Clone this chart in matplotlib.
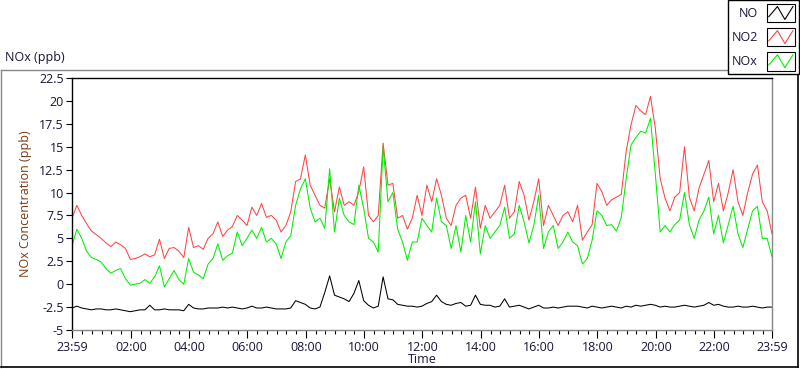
import numpy as np
import pandas as pd
import matplotlib
matplotlib.use('Agg')
import matplotlib.pyplot as plt
import matplotlib.dates as mdates
from matplotlib.legend_handler import HandlerBase
from matplotlib.lines import Line2D
from matplotlib.patches import Rectangle
from matplotlib.ticker import FuncFormatter

# 10 minute samples, 23:59 -> 23:59 next day (ppb)
no = [
    -2.6, -2.4, -2.6, -2.7, -2.8, -2.7, -2.7, -2.8, -2.8, -2.7, -2.8, -2.9,
    -3.0, -2.9, -2.8, -2.8, -2.3, -2.8, -2.8, -2.7, -2.8, -2.8, -2.8, -2.9,
    -2.2, -2.6, -2.7, -2.7, -2.6, -2.6, -2.6, -2.5, -2.6, -2.5, -2.6, -2.7,
    -2.6, -2.4, -2.6, -2.6, -2.5, -2.6, -2.7, -2.7, -2.7, -2.6, -1.8, -2.0,
    -2.2, -2.6, -2.7, -2.5, -0.9, 0.9, -1.2, -1.4, -1.6, -1.9, -1.0, 0.4,
    -1.8, -2.3, -2.6, -2.4, 0.8, -1.6, -1.7, -2.2, -2.3, -2.4, -2.4, -2.5,
    -2.4, -2.1, -1.9, -1.2, -1.9, -2.2, -2.3, -2.1, -2.0, -2.4, -2.3, -1.2,
    -2.2, -2.3, -2.3, -2.5, -2.4, -1.6, -2.5, -2.4, -2.3, -2.5, -2.7, -2.5,
    -2.3, -2.6, -2.6, -2.5, -2.6, -2.5, -2.4, -2.4, -2.4, -2.5, -2.6, -2.4,
    -2.5, -2.6, -2.5, -2.4, -2.5, -2.6, -2.4, -2.5, -2.3, -2.4, -2.3, -2.2,
    -2.3, -2.5, -2.4, -2.5, -2.5, -2.4, -2.3, -2.4, -2.5, -2.4, -2.3, -2.0,
    -2.3, -2.2, -2.4, -2.5, -2.5, -2.4, -2.5, -2.5, -2.4, -2.5, -2.6, -2.5,
    -2.5,
]
no2 = [
    7.2, 8.6, 7.5, 6.6, 5.8, 5.4, 5.0, 4.5, 4.1, 4.6, 4.3, 3.9,
    2.7, 2.8, 3.0, 3.3, 3.0, 3.2, 4.9, 2.8, 3.9, 4.0, 3.6, 2.9,
    6.2, 4.0, 4.2, 3.8, 5.0, 5.5, 6.8, 5.2, 5.9, 6.3, 7.5, 7.0,
    6.4, 8.4, 7.5, 8.8, 7.3, 7.5, 7.0, 5.7, 6.4, 7.9, 11.2, 11.5,
    14.1, 10.8, 9.7, 8.6, 8.3, 11.5, 7.9, 10.6, 8.6, 9.0, 8.6, 10.1,
    12.8, 7.5, 6.8, 7.5, 15.4, 10.8, 11.0, 7.2, 7.5, 6.0, 7.2, 9.7,
    7.5, 10.8, 9.0, 11.5, 9.7, 7.2, 6.4, 8.6, 9.4, 9.7, 7.2, 10.6,
    6.1, 8.6, 7.2, 7.9, 8.6, 10.8, 7.2, 7.9, 11.2, 9.7, 7.0, 9.0,
    11.5, 6.4, 8.6, 7.5, 6.4, 7.5, 7.9, 6.8, 8.6, 4.8, 5.7, 6.5,
    11.0, 10.1, 8.6, 9.2, 9.5, 9.8, 14.5, 17.4, 19.5, 18.9, 18.5, 20.5,
    17.0, 11.5, 9.4, 8.0, 9.5, 10.0, 15.0, 9.5, 8.0, 10.5, 12.0, 13.5,
    9.0, 11.0, 8.0, 10.0, 12.5, 9.0, 7.5, 10.0, 12.0, 13.0, 9.0, 8.0,
    5.5,
]
nox = [
    4.2, 6.0, 5.0, 3.6, 2.9, 2.7, 2.4, 1.7, 1.2, 1.5, 1.7, 0.6,
    -0.1, 0.0, 0.1, 0.5, 0.1, 0.8, 2.0, -0.3, 0.6, 1.5, 0.5, 0.0,
    2.8, 1.3, 1.0, 0.6, 2.2, 2.8, 4.4, 2.6, 3.1, 3.4, 5.7, 4.2,
    5.0, 5.9, 5.0, 6.2, 4.6, 5.0, 4.4, 2.8, 4.6, 5.3, 8.6, 10.4,
    11.5, 8.3, 6.8, 7.2, 6.1, 12.6, 5.7, 9.4, 7.5, 6.8, 6.5, 10.8,
    8.3, 5.0, 4.6, 3.5, 15.0, 9.0, 10.0, 6.0, 4.6, 2.6, 4.6, 4.6,
    7.2, 6.4, 5.7, 9.4, 6.8, 6.4, 3.9, 6.4, 3.5, 7.5, 4.6, 9.0,
    3.3, 6.4, 5.0, 5.7, 6.4, 8.4, 5.0, 5.5, 8.6, 6.8, 4.5, 6.4,
    9.7, 3.9, 5.7, 6.4, 3.9, 4.6, 5.7, 4.6, 4.2, 2.2, 2.8, 4.8,
    8.0, 7.5, 6.4, 6.5, 5.8, 7.3, 11.5, 15.2, 16.0, 16.7, 16.5, 18.1,
    12.0, 5.7, 6.4, 5.7, 6.5, 7.0, 10.0, 6.5, 5.0, 7.0, 8.0, 9.5,
    5.5, 7.5, 4.5, 6.5, 8.5, 5.5, 4.0, 6.0, 8.0, 8.5, 5.0, 5.0,
    3.0,
]
series_names = ['NO', 'NO2', 'NOx']
series_colors = ['black', '#ff4444', '#00ee00']

times = pd.date_range('2020-01-01 23:59', periods=len(no2), freq='10min')
y_ticks = np.arange(-5, 22.6, 2.5)

plt.rcParams['font.family'] = ['Open Sans', 'DejaVu Sans']
txt_col = '#161636'
fs = 9


class ZigZagHandler(HandlerBase):
    def create_artists(self, legend, orig_handle, xdescent, ydescent,
                       width, height, fontsize, trans):
        x0, y0 = -xdescent, -ydescent
        box = Rectangle((x0, y0), width, height, facecolor='white',
                        edgecolor='black', lw=0.8, transform=trans)
        xs = x0 + width * np.array([0.08, 0.38, 0.64, 0.92])
        ys = y0 + height * np.array([0.3, 0.85, 0.15, 0.85])
        zz = Line2D(xs, ys, color=orig_handle.get_color(), lw=0.8, transform=trans)
        return [box, zz]


fig = plt.figure(figsize=(8, 3.69), dpi=100)
ax = fig.add_axes([72 / 800, 1 - 330 / 369, 700 / 800, 252 / 369])

lines = []
for vals, name, col in zip([no, no2, nox], series_names, series_colors):
    ln, = ax.plot(times, vals, color=col, lw=0.75, label=name)
    lines.append(ln)

ax.set_xlim(times[0], times[-1])
ax.set_ylim(-5, 22.5)
ax.set_yticks(y_ticks)
ax.yaxis.set_major_formatter(FuncFormatter(lambda v, p: f'{v:g}'))

majors = [times[0]] + list(pd.date_range('2020-01-02 02:00', '2020-01-02 22:00', freq='2h')) + [times[-1]]
ax.set_xticks(majors)
ax.xaxis.set_major_formatter(mdates.DateFormatter('%H:%M'))
ax.set_xticks(pd.date_range('2020-01-02 00:00', '2020-01-02 23:40', freq='20min'), minor=True)

ax.tick_params(axis='both', colors='black', labelcolor=txt_col, labelsize=fs)
ax.tick_params(axis='y', length=4, width=0.8, pad=2)
ax.tick_params(axis='x', which='major', length=6, width=0.8, pad=2)
ax.tick_params(axis='x', which='minor', length=3, width=0.8)

for s in ['top', 'left']:
    ax.spines[s].set_color('black')
for s in ['right', 'bottom']:
    ax.spines[s].set_color('#888888')
for s in ax.spines.values():
    s.set_linewidth(1.0)

ax.set_ylabel('NOx Concentration (ppb)', color='#7a3a10', fontsize=fs, labelpad=5)
ax.set_xlabel('Time', color=txt_col, fontsize=fs, labelpad=-1)

# outer panel frame and caption
fig.add_artist(Line2D([0.5 / 800, 0.5 / 800], [1 - 367 / 369, 1 - 70 / 369], color='#888888', lw=1, transform=fig.transFigure))
fig.add_artist(Line2D([0.5 / 800, 730 / 800], [1 - 70 / 369, 1 - 70 / 369], color='#888888', lw=1, transform=fig.transFigure))
fig.add_artist(Line2D([0.5 / 800, 798 / 800], [1 - 367 / 369, 1 - 367 / 369], color='black', lw=1.2, transform=fig.transFigure))
fig.add_artist(Line2D([798 / 800, 798 / 800], [1 - 367 / 369, 1 - 72 / 369], color='black', lw=1.2, transform=fig.transFigure))
fig.text(5 / 800, 1 - 58 / 369, 'NOx (ppb)', color=txt_col, fontsize=fs, va='center', ha='left')

leg = fig.legend(handles=lines, labels=series_names, loc='upper right',
                 bbox_to_anchor=(799 / 800, 1.0), bbox_transform=fig.transFigure,
                 frameon=True, fancybox=False, edgecolor='black', framealpha=1,
                 markerfirst=False, handler_map={Line2D: ZigZagHandler()},
                 handlelength=2.3, handleheight=1.9, borderpad=0.3,
                 labelspacing=0.45, handletextpad=0.7, borderaxespad=0,
                 fontsize=fs, labelcolor=txt_col)
leg.get_frame().set_linewidth(1.0)

fig.savefig('out.png', dpi=100)
